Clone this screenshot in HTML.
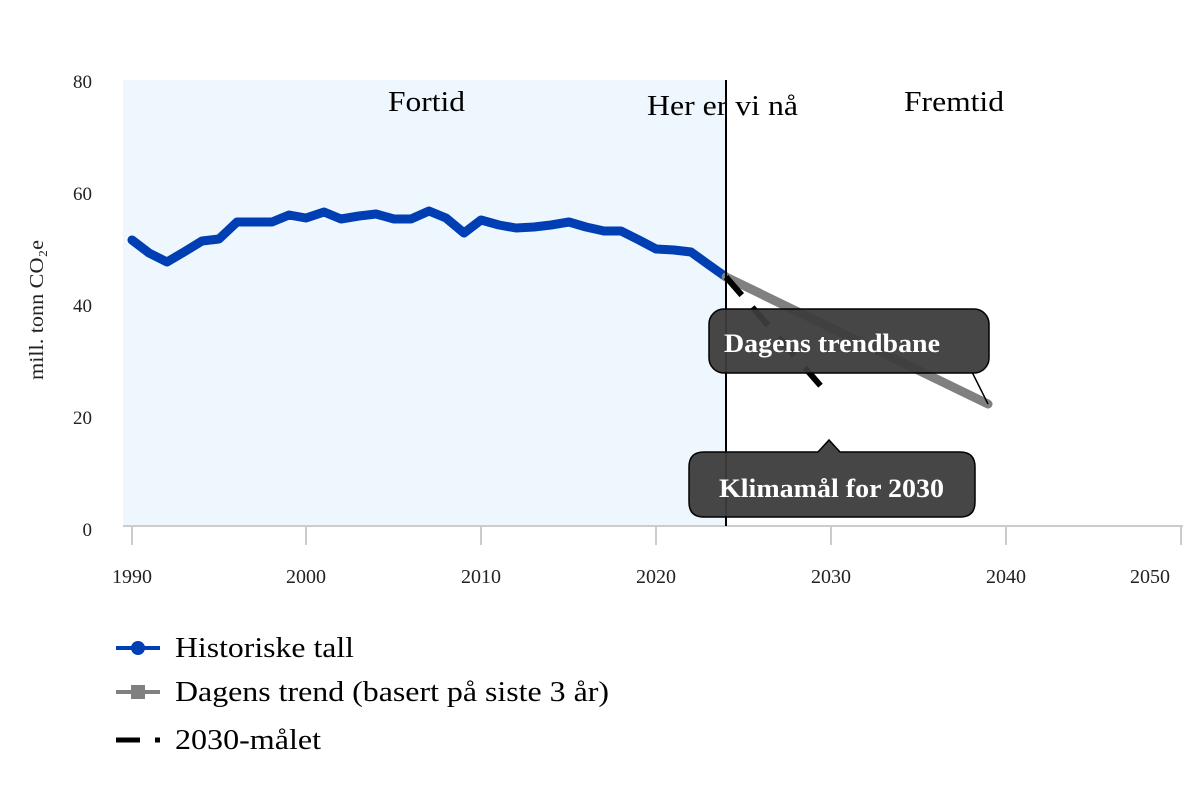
<!DOCTYPE html><html><head><style>body{margin:0;background:#fff}svg{display:block}text{font-family:"Liberation Serif",serif}</style></head><body>
<svg width="1200" height="800" viewBox="0 0 1200 800">
<rect x="123" y="80" width="603" height="446" fill="#eef6fe"/>
<g font-size="19" fill="#222" text-anchor="end">
<text x="92" y="88">80</text><text x="92" y="200">60</text><text x="92" y="312">40</text><text x="92" y="424">20</text><text x="92" y="536">0</text></g>
<text transform="translate(43,310) rotate(-90)" font-size="20" text-anchor="middle" fill="#222" textLength="140" lengthAdjust="spacingAndGlyphs">mill. tonn CO₂e</text>
<line x1="123" y1="526" x2="1183" y2="526" stroke="#ccc" stroke-width="2"/>
<g stroke="#ccc" stroke-width="2"><line x1="132" y1="526" x2="132" y2="545"/><line x1="306" y1="526" x2="306" y2="545"/><line x1="481" y1="526" x2="481" y2="545"/><line x1="656" y1="526" x2="656" y2="545"/><line x1="831" y1="526" x2="831" y2="545"/><line x1="1006" y1="526" x2="1006" y2="545"/><line x1="1181" y1="526" x2="1181" y2="545"/></g>
<g font-size="20" fill="#222" text-anchor="middle"><text x="132" y="583">1990</text><text x="306" y="583">2000</text><text x="481" y="583">2010</text><text x="656" y="583">2020</text><text x="831" y="583">2030</text><text x="1006" y="583">2040</text><text x="1150" y="583">2050</text></g>
<g font-size="28" fill="#000"><text x="388" y="111" textLength="77" lengthAdjust="spacingAndGlyphs">Fortid</text><text x="647" y="115" textLength="151" lengthAdjust="spacingAndGlyphs">Her er vi nå</text><text x="904" y="111" textLength="100" lengthAdjust="spacingAndGlyphs">Fremtid</text></g>
<polyline fill="none" stroke="#003eb3" stroke-width="9" stroke-linejoin="round" stroke-linecap="round" points="132,240 149,253 167,262 184,252 202,241 219,239 237,222 254,222 272,222 289,215 306,218 324,212 341,219 359,216 376,214 394,219 411,219 429,211 446,218 464,233 481,220 499,225 516,228 534,227 551,225 569,222 586,227 604,231 621,231 639,240 656,249 674,250 691,252 709,265 726,277"/>
<line x1="726" y1="277" x2="988" y2="404" stroke="#808080" stroke-width="9" stroke-linecap="round"/>
<line x1="726" y1="277" x2="826" y2="392" stroke="#000" stroke-width="6" stroke-dasharray="24,16"/>
<line x1="726" y1="80" x2="726" y2="526" stroke="#000" stroke-width="2"/>
<line x1="972" y1="372" x2="988" y2="404" stroke="#000" stroke-width="1.5"/>
<rect x="709" y="309" width="280" height="64" rx="15" fill="#3c3c3c" fill-opacity="0.95" stroke="#000" stroke-width="1.5"/>
<text x="724" y="352" font-size="26" font-weight="bold" fill="#fff" textLength="216" lengthAdjust="spacingAndGlyphs">Dagens trendbane</text>
<path d="M704,452 H818 L829,440 L840,452 H960 Q975,452 975,467 V502 Q975,517 960,517 H704 Q689,517 689,502 V467 Q689,452 704,452Z" fill="#3c3c3c" fill-opacity="0.95" stroke="#000" stroke-width="1.5"/>
<text x="719" y="497" font-size="26" font-weight="bold" fill="#fff" textLength="225" lengthAdjust="spacingAndGlyphs">Klimamål for 2030</text>
<line x1="116" y1="648" x2="160" y2="648" stroke="#003eb3" stroke-width="4"/><circle cx="138" cy="648" r="7" fill="#003eb3"/>
<line x1="116" y1="692" x2="160" y2="692" stroke="#808080" stroke-width="4"/><rect x="131" y="685" width="14" height="14" fill="#808080"/>
<line x1="116" y1="740" x2="160" y2="740" stroke="#000" stroke-width="5" stroke-dasharray="24,15,5,100"/>
<g font-size="28" fill="#000"><text x="175" y="657" textLength="179" lengthAdjust="spacingAndGlyphs">Historiske tall</text><text x="175" y="701" textLength="434" lengthAdjust="spacingAndGlyphs">Dagens trend (basert på siste 3 år)</text><text x="175" y="749" textLength="146" lengthAdjust="spacingAndGlyphs">2030-målet</text></g>
</svg></body></html>
